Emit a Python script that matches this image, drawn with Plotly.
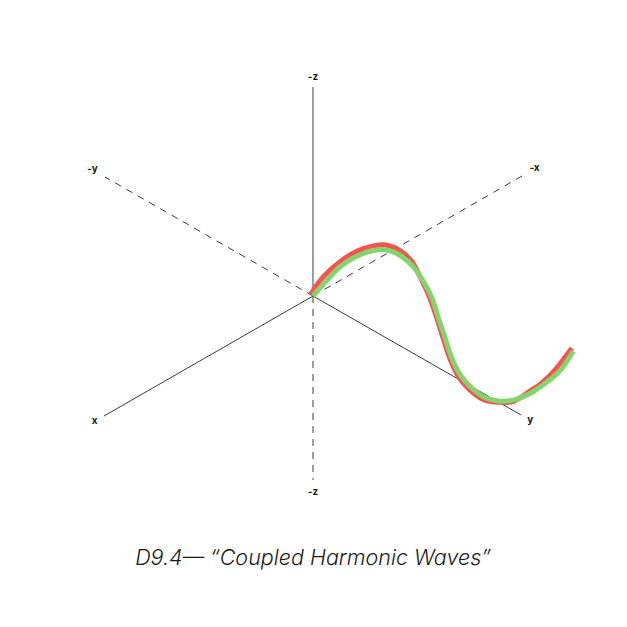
import plotly.graph_objects as go

# Curve samples (x = 0, points lie in the y-z plane)
red_y = [-0.012, 0.05, 0.13, 0.21, 0.29, 0.35, 0.418, 0.475, 0.515, 0.561, 0.594,
         0.625, 0.657, 0.697, 0.755, 0.827, 0.889, 0.962, 1.043, 1.1, 1.155, 1.244]
red_z = [0.0, 0.121, 0.238, 0.334, 0.405, 0.443, 0.455, 0.435, 0.385, 0.312, 0.235,
         0.156, 0.078, 0.015, -0.02, -0.028, -0.002, 0.043, 0.139, 0.21, 0.294, 0.459]

green_y = [0.0, 0.066, 0.13, 0.21, 0.29, 0.354, 0.418, 0.482, 0.53, 0.571, 0.602,
           0.635, 0.667, 0.707, 0.763, 0.835, 0.891, 0.963, 1.043, 1.124, 1.188, 1.251]
green_z = [0.0, 0.112, 0.214, 0.31, 0.383, 0.422, 0.433, 0.415, 0.372, 0.318, 0.24,
           0.162, 0.083, 0.026, -0.006, -0.014, 0.005, 0.05, 0.127, 0.228, 0.32, 0.448]

# axis extents (positive side solid, negative side dashed)
axis_names = ["x", "y", "z"]
pos_extent = [1.0, 1.0, 1.0]
neg_extent = [1.0, 1.0, 0.88]
pos_labels = ["x", "y", "-z"]
neg_labels = ["-x", "-y", "-z"]

title_text = "D9.4— “Coupled Harmonic Waves”"

# screen projection of the unit vectors (pixels, y up)
proj = {"x": (-209, -120), "y": (208, -119), "z": (0, 209)}


def project(x, y, z):
    px = x * proj["x"][0] + y * proj["y"][0] + z * proj["z"][0]
    py = x * proj["x"][1] + y * proj["y"][1] + z * proj["z"][1]
    return px, py


def unit(name, t):
    v = {"x": 0, "y": 0, "z": 0}
    v[name] = t
    return project(v["x"], v["y"], v["z"])


fig = go.Figure()

# axes
lx, ly, lt = [], [], []
for i, name in enumerate(axis_names):
    ex, ey = unit(name, pos_extent[i])
    fig.add_trace(go.Scatter(x=[0, ex], y=[0, ey], mode="lines",
                             line=dict(color="#3a3a3a", width=1), hoverinfo="skip"))
    nx, ny = unit(name, -neg_extent[i])
    fig.add_trace(go.Scatter(x=[0, nx], y=[0, ny], mode="lines",
                             line=dict(color="#3a3a3a", width=1, dash="7px,6px"),
                             hoverinfo="skip"))
    px_, py_ = unit(name, pos_extent[i] + 0.045)
    qx_, qy_ = unit(name, -(neg_extent[i] + 0.06))
    lx += [px_, qx_]
    ly += [py_, qy_]
    lt += [pos_labels[i], neg_labels[i]]

fig.add_trace(go.Scatter(x=lx, y=ly, mode="text", text=lt,
                         textfont=dict(family="Inter", size=10, color="#1a1a1a", weight="bold"),
                         hoverinfo="skip"))

# waves
rx, ry = zip(*[project(0, a, b) for a, b in zip(red_y, red_z)])
gx, gy = zip(*[project(0, a, b) for a, b in zip(green_y, green_z)])
fig.add_trace(go.Scatter(x=rx, y=ry, mode="lines", line=dict(color="#f4544c", width=5, shape="spline")))
fig.add_trace(go.Scatter(x=gx, y=gy, mode="lines", line=dict(color="#82d46e", width=5, shape="spline")))

# page has an 8px body margin, so the ranges are shifted to keep the origin in place
fig.update_layout(
    width=627, height=627,
    margin=dict(l=0, r=0, t=0, b=0),
    paper_bgcolor="white", plot_bgcolor="white",
    showlegend=False,
    xaxis=dict(range=[-305, 322], visible=False, fixedrange=True),
    yaxis=dict(range=[-339, 288], visible=False, fixedrange=True),
    title=dict(text=title_text, x=305 / 627, xanchor="center", y=1 - 549 / 627, yanchor="middle",
               yref="container",
               font=dict(family="Inter", size=21.5, color="#1a1a1a", style="italic", weight=300)),
)

fig.write_html("out.html")
